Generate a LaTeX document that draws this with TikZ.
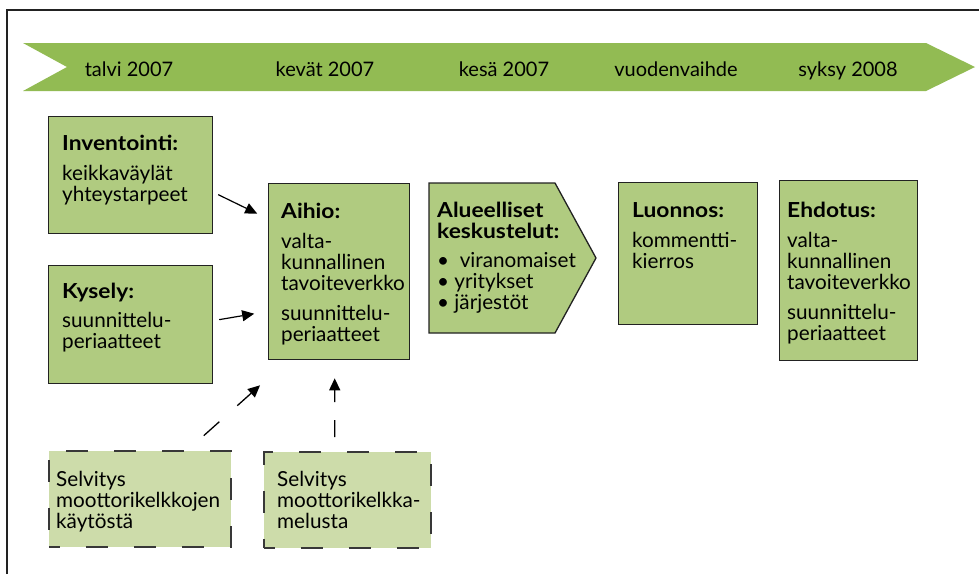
\documentclass[tikz,border=0pt]{standalone}
\usepackage{fontspec}
\setmainfont{Lato}[BoldFeatures={FakeStretch=1.1}]
\usetikzlibrary{arrows.meta}

\definecolor{bandgreen}{RGB}{146,187,83}
\definecolor{boxgreen}{RGB}{176,203,128}
\definecolor{palegreen}{RGB}{205,220,170}
\definecolor{inkgray}{RGB}{34,34,34}

\tikzset{
  card/.style={rectangle, draw=inkgray, line width=1.3pt, fill=boxgreen,
    inner sep=0pt, anchor=north west},
  studycard/.style={rectangle, draw=inkgray!90, line width=1.7pt, fill=palegreen,
    dash pattern=on 22pt off 26pt, dash phase=11pt, inner sep=0pt, anchor=north west},
  cardtext/.style={anchor=base west, inner sep=0pt, text=black,
    font=\fontsize{20.7}{21}\selectfont},
  season/.style={anchor=base, inner sep=0pt, text=black,
    font=\fontsize{20}{21}\selectfont},
  flow/.style={draw=black, line width=1.2pt, -{Triangle[length=12pt,width=11pt]}},
  studyflow/.style={flow, line width=1.3pt},
}

\newcommand{\cardbody}[2]{\parbox[t]{#1}{\raggedright #2}}

\begin{document}
\begin{tikzpicture}[x=1pt,y=-1pt]
  \useasboundingbox (0,0) rectangle (979,574);

  % frame edges
  \draw[line width=1.2pt, inkgray] (7,574) -- (7,10) -- (979,10);

  % timeline band
  \fill[bandgreen] (23,43) -- (926,43) -- (975,67) -- (926,91) -- (23,91) -- (67,67) -- cycle;
  \node[season] (s1) at (129,76) {talvi 2007};
  \node[season] (s2) at (325,76) {kevät 2007};
  \node[season] (s3) at (504,76) {kesä 2007};
  \node[season] (s4) at (676,76) {vuodenvaihde};
  \node[season] (s5) at (848,76) {syksy 2008};

  % input cards
  \node[card, minimum width=164pt, minimum height=117pt] (inv) at (48,116) {};
  \node[cardtext] (invT) at ([shift={(14,34)}]inv.north west)
    {\cardbody{150pt}{\textbf{Inventointi:}\\[9pt]keikkaväylät\\yhteystarpeet}};

  \node[card, minimum width=164pt, minimum height=118pt] (kys) at (48,265) {};
  \node[cardtext] (kysT) at ([shift={(14,33)}]kys.north west)
    {\cardbody{150pt}{\textbf{Kysely:}\\[8pt]suunnittelu-\\periaatteet}};

  % draft card
  \node[card, minimum width=141pt, minimum height=176pt] (aihio) at (268,183) {};
  \node[cardtext] (aihioT) at ([shift={(13,35)}]aihio.north west)
    {\cardbody{130pt}{\textbf{Aihio:}\\[9pt]valta-\\kunnallinen\\tavoiteverkko\\[9pt]suunnittelu-\\periaatteet}};

  % regional discussions (pointed card)
  \draw[fill=boxgreen, draw=inkgray, line width=1.3pt]
    (429,183) -- (555,183) -- (596,258) -- (555,333) -- (429,333) -- cycle;
  \node[cardtext] (alueT) at (437,217)
    {\cardbody{150pt}{\textbf{Alueelliset\\keskustelut:}\\[8pt]\textbullet\ \ viranomaiset\\\textbullet\ yritykset\\\textbullet\ järjestöt}};

  % comment round and proposal
  \node[card, minimum width=139pt, minimum height=142pt] (luon) at (618,182) {};
  \node[cardtext] (luonT) at ([shift={(14,35)}]luon.north west)
    {\cardbody{130pt}{\textbf{Luonnos:}\\[9pt]kommentti-\\kierros}};

  \node[card, minimum width=138pt, minimum height=180pt] (ehd) at (779,180) {};
  \node[cardtext] (ehdT) at ([shift={(8,37)}]ehd.north west)
    {\cardbody{135pt}{\textbf{Ehdotus:}\\[9pt]valta-\\kunnallinen\\tavoiteverkko\\[9pt]suunnittelu-\\periaatteet}};

  % background studies
  \node[studycard, minimum width=182pt, minimum height=96pt] (sel1) at (48,450) {};
  \node[cardtext] (sel1T) at ([shift={(8,36)}]sel1.north west)
    {\cardbody{178pt}{Selvitys\\moottorikelkkojen\\käytöstä}};

  \node[studycard, minimum width=167pt, minimum height=96pt] (sel2) at (263,451) {};
  \node[cardtext] (sel2T) at ([shift={(14,35)}]sel2.north west)
    {\cardbody{160pt}{Selvitys\\moottorikelkka-\\melusta}};

  % connectors into the draft
  \draw[flow, shorten <=5.5pt, shorten >=12pt]
    ([shift={(0,17.1)}]inv.east) -- ([shift={(0,-52.8)}]aihio.west);
  \draw[flow, shorten <=6pt, shorten >=14pt]
    ([shift={(0,-4)}]kys.east) -- ([shift={(0,39.7)}]aihio.west);
  \draw[studyflow, dash pattern=on 21pt off 24pt, shorten <=21.5pt, shorten >=37.5pt]
    ([shift={(-44,0)}]sel1.north east) -- ([shift={(20,0)}]aihio.south west);
  \draw[studyflow, dash pattern=on 17pt off 18pt, shorten <=14pt, shorten >=18pt]
    ([shift={(-12.5,0)}]sel2.north) -- ([shift={(-4.5,0)}]aihio.south);
\end{tikzpicture}
\end{document}
